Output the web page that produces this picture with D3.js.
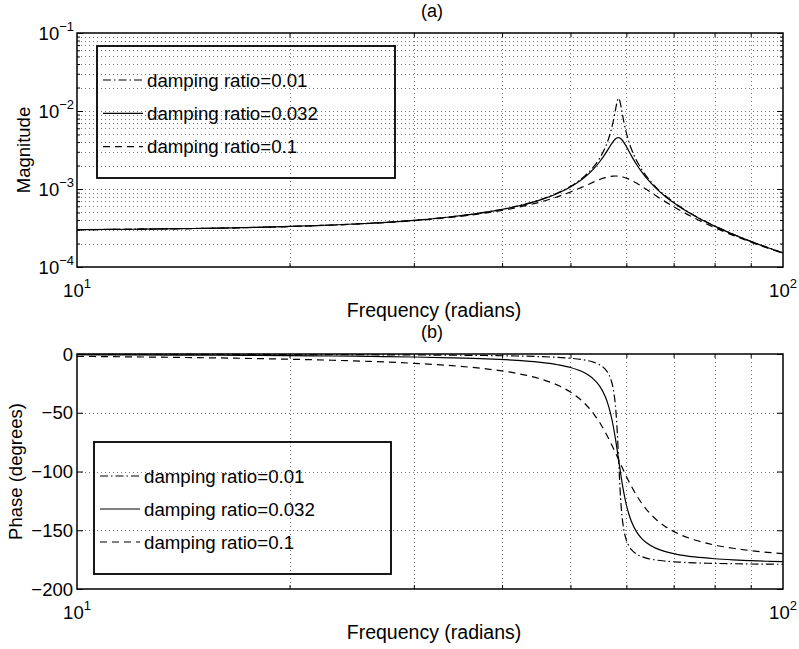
<!DOCTYPE html>
<html>
<head>
<meta charset="utf-8">
<script src="https://cdn.jsdelivr.net/npm/d3@7/dist/d3.min.js"></script>
<style>
  html, body { margin: 0; padding: 0; background: #fff; }
  svg text { font-family: "Liberation Sans", Arial, Helvetica, sans-serif; fill: #000; }
</style>
</head>
<body>
<svg id="chart" width="799" height="649"></svg>
<script>
// Frequency samples (rad/s)
const freq = [10, 12, 14, 16, 18, 20, 23, 26, 30, 34, 38, 42, 45, 48, 50, 52, 53, 54,
  55, 56, 56.5, 57, 57.5, 58, 58.25, 58.5, 58.75, 59, 59.5, 60, 60.5, 61, 62, 63, 64, 66,
  68, 71, 75, 80, 85, 90, 95, 100];

// Magnitude response for each damping ratio
const mag001 = [3.010e-4, 3.050e-4, 3.100e-4, 3.158e-4, 3.228e-4, 3.309e-4, 3.456e-4, 3.641e-4,
  3.964e-4, 4.412e-4, 5.054e-4, 6.028e-4, 7.152e-4, 8.931e-4, 1.0821e-3, 1.3873e-3, 1.6224e-3,
  1.960e-3, 2.485e-3, 3.405e-3, 4.179e-3, 5.387e-3, 7.457e-3, 1.1178e-2, 1.348e-2, 1.462e-2,
  1.339e-2, 1.1034e-2, 7.299e-3, 5.233e-3, 4.027e-3, 3.255e-3, 2.337e-3, 1.8126e-3, 1.4752e-3,
  1.0673e-3, 8.303e-4, 6.169e-4, 4.536e-4, 3.357e-4, 2.629e-4, 2.137e-4, 1.7845e-4, 1.520e-4];
const mag0032 = [3.010e-4, 3.050e-4, 3.099e-4, 3.158e-4, 3.227e-4, 3.308e-4, 3.455e-4, 3.639e-4,
  3.961e-4, 4.406e-4, 5.042e-4, 6.004e-4, 7.105e-4, 8.829e-4, 1.0626e-3, 1.3437e-3, 1.5515e-3,
  1.8345e-3, 2.235e-3, 2.818e-3, 3.200e-3, 3.639e-3, 4.088e-3, 4.447e-3, 4.545e-3, 4.566e-3,
  4.507e-3, 4.375e-3, 3.967e-3, 3.492e-3, 3.043e-3, 2.659e-3, 2.077e-3, 1.6793e-3, 1.3982e-3,
  1.0353e-3, 8.141e-4, 6.096e-4, 4.503e-4, 3.341e-4, 2.621e-4, 2.132e-4, 1.7813e-4, 1.5178e-4];
const mag01 = [3.008e-4, 3.048e-4, 3.096e-4, 3.153e-4, 3.220e-4, 3.299e-4, 3.441e-4, 3.619e-4,
  3.927e-4, 4.346e-4, 4.932e-4, 5.782e-4, 6.697e-4, 7.990e-4, 9.169e-4, 1.0621e-3, 1.1436e-3,
  1.2350e-3, 1.3234e-3, 1.3986e-3, 1.4286e-3, 1.4514e-3, 1.4648e-3, 1.4682e-3, 1.4661e-3, 1.4610e-3,
  1.4535e-3, 1.4434e-3, 1.4162e-3, 1.3808e-3, 1.3390e-3, 1.2925e-3, 1.1918e-3, 1.0896e-3, 9.928e-4,
  8.254e-4, 6.939e-4, 5.496e-4, 4.216e-4, 3.204e-4, 2.544e-4, 2.086e-4, 1.7507e-4, 1.4968e-4];

// Phase response (degrees) for each damping ratio
const phase001 = [-0.20, -0.25, -0.29, -0.34, -0.39, -0.44, -0.53, -0.63, -0.80, -1.01, -1.29, -1.70,
  -2.16, -2.88, -3.63, -4.84, -5.77, -7.12, -9.20, -12.89, -16.03, -21.06, -30.12, -49.37, -66.83, -90,
  -113.11, -130.4, -149.47, -158.45, -163.43, -166.56, -170.25, -172.32, -173.66, -175.27, -176.21,
  -177.06, -177.72, -178.20, -178.50, -178.71, -178.86, -178.98];
const phase0032 = [-0.65, -0.79, -0.93, -1.08, -1.25, -1.42, -1.71, -2.03, -2.55, -3.22, -4.11, -5.42,
  -6.88, -9.13, -11.47, -15.17, -17.93, -21.77, -27.39, -36.23, -42.6, -50.93, -61.69, -75.0, -82.38, -90,
  -97.59, -104.89, -117.91, -128.36, -136.42, -142.60, -151.17, -156.66, -160.43, -165.18, -168.04,
  -170.68, -172.73, -174.26, -175.22, -175.88, -176.37, -176.74];
const phase01 = [-2.02, -2.45, -2.91, -3.38, -3.89, -4.43, -5.31, -6.32, -7.92, -9.96, -12.67, -16.51,
  -20.65, -26.66, -32.39, -40.27, -45.32, -51.30, -58.31, -66.4, -70.82, -75.44, -80.22, -85.09, -87.55, -90,
  -92.44, -94.86, -99.62, -104.21, -108.58, -112.71, -120.17, -126.57, -131.98, -140.41, -146.50,
  -152.83, -158.28, -162.55, -165.34, -167.31, -168.78, -169.91];

const seriesLabels = ["damping ratio=0.01", "damping ratio=0.032", "damping ratio=0.1"];
const freqTicks = [10, 100];
const freqExponents = ["1", "2"];
const magTicks = [1e-4, 1e-3, 1e-2, 1e-1];
const magExponents = ["\u22124", "\u22123", "\u22122", "\u22121"];
const phaseTicks = [0, -50, -100, -150, -200];
const panelTitles = ["(a)", "(b)"];
const xLabel = "Frequency (radians)";
const yLabels = ["Magnitude", "Phase (degrees)"];

// line styles per series: dash-dot, solid, dashed
const dashes = ["8,3,1.5,3", null, "7,5"];

const FS = 18.5;   // main text size
const FSUP = 13;   // exponent size

const svg = d3.select("#chart");
svg.append("rect").attr("width", 799).attr("height", 649).attr("fill", "#fff");

const L = 77, R = 783;
const panels = [
  { top: 33, bottom: 267 },
  { top: 354, bottom: 589 }
];

const x = d3.scaleLog().domain([10, 100]).range([L, R]);
const yMag = d3.scaleLog().domain([1e-4, 1e-1]).range([panels[0].bottom, panels[0].top]);
const yPh = d3.scaleLinear().domain([-200, 0]).range([panels[1].bottom, panels[1].top]);

// minor positions on the log frequency axis
const xMinor = d3.range(2, 10).map(k => k * 10);
const magGrid = [];
[-4, -3, -2].forEach(e => { for (let k = 1; k <= 9; k++) magGrid.push(k * Math.pow(10, e)); });
const magMinor = magGrid.filter(v => !magTicks.some(t => Math.abs(t - v) / t < 1e-9));

const gridStyle = g => g.attr("stroke", "#777").attr("stroke-width", 1)
  .attr("stroke-dasharray", "1,3").attr("fill", "none");

function drawGrid(p, yScale, yVals) {
  const g = svg.append("g").call(gridStyle);
  g.selectAll("line.v").data(xMinor).join("line")
    .attr("x1", d => Math.round(x(d)) + 0.5).attr("x2", d => Math.round(x(d)) + 0.5)
    .attr("y1", p.top).attr("y2", p.bottom);
  g.selectAll("line.h").data(yVals).join("line")
    .attr("y1", d => Math.round(yScale(d)) + 0.5).attr("y2", d => Math.round(yScale(d)) + 0.5)
    .attr("x1", L).attr("x2", R);
}

drawGrid(panels[0], yMag, magGrid.filter(v => v > 1e-4));
drawGrid(panels[1], yPh, phaseTicks.filter(v => v > -200 && v < 0));

// inward tick marks on all four sides
function tickAxes(p, yScale, yMajor, yMin) {
  const mk = (axis, tx, ty, vals, size) => {
    const g = svg.append("g").attr("transform", `translate(${tx},${ty})`)
      .call(axis.tickValues(vals).tickSize(size).tickSizeOuter(0).tickFormat(""));
    g.select(".domain").remove();
    g.selectAll("line").attr("stroke", "#000").attr("stroke-width", 1);
  };
  mk(d3.axisBottom(x), 0, p.bottom, xMinor, -4);
  mk(d3.axisTop(x), 0, p.top, xMinor, -4);
  mk(d3.axisLeft(yScale), L, 0, yMajor, -6);
  mk(d3.axisRight(yScale), R, 0, yMajor, -6);
  if (yMin.length) {
    mk(d3.axisLeft(yScale), L, 0, yMin, -3);
    mk(d3.axisRight(yScale), R, 0, yMin, -3);
  }
}
tickAxes(panels[0], yMag, magTicks, magMinor);
tickAxes(panels[1], yPh, phaseTicks, []);

// curves
function drawCurves(yScale, seriesList) {
  const line = d3.line().x(d => x(d[0])).y(d => yScale(d[1])).curve(d3.curveMonotoneX);
  seriesList.forEach((vals, i) => {
    svg.append("path")
      .datum(freq.map((f, j) => [f, vals[j]]))
      .attr("d", line)
      .attr("fill", "none")
      .attr("stroke", "#000")
      .attr("stroke-width", 1.2)
      .attr("stroke-dasharray", dashes[i]);
  });
}
drawCurves(yMag, [mag001, mag0032, mag01]);
drawCurves(yPh, [phase001, phase0032, phase01]);

// axes boxes
panels.forEach(p => {
  svg.append("rect").attr("x", L).attr("y", p.top)
    .attr("width", R - L).attr("height", p.bottom - p.top)
    .attr("fill", "none").attr("stroke", "#000").attr("stroke-width", 1.5);
});

// power-of-ten labels
function powLabel(sel, base, exp) {
  sel.append("tspan").text(base).attr("font-size", FS);
  sel.append("tspan").text(exp).attr("font-size", FSUP).attr("dy", "-0.7em");
}

panels.forEach(p => {
  freqTicks.forEach((t, i) => {
    const tx = svg.append("text").attr("x", x(t)).attr("y", p.bottom + 30)
      .attr("text-anchor", "middle");
    powLabel(tx, "10", freqExponents[i]);
  });
});

magTicks.forEach((t, i) => {
  const tx = svg.append("text").attr("x", 74).attr("y", yMag(t) + 7).attr("text-anchor", "end");
  powLabel(tx, "10", magExponents[i]);
});

phaseTicks.forEach(t => {
  svg.append("text").attr("x", 73).attr("y", yPh(t) + 6.5).attr("text-anchor", "end")
    .attr("font-size", FS).text(t === 0 ? "0" : "\u2212" + Math.abs(t));
});

// titles and axis labels
panels.forEach((p, i) => {
  svg.append("text").attr("x", 432).attr("y", p.top - 16).attr("text-anchor", "middle")
    .attr("font-size", 18).text(panelTitles[i]);
  svg.append("text").attr("x", 434).attr("y", p.bottom + 50).attr("text-anchor", "middle")
    .attr("font-size", 19.5).text(xLabel);
  const cy = (p.top + p.bottom) / 2;
  const lx = i === 0 ? 30 : 22;
  svg.append("text").attr("transform", `translate(${lx},${cy}) rotate(-90)`)
    .attr("text-anchor", "middle").attr("font-size", FS).text(yLabels[i]);
});

// legends
const legends = [
  { x0: 97, y0: 46, x1: 395, y1: 178, rows: [80, 113.3, 146.7] },
  { x0: 94, y0: 442, x1: 391, y1: 574, rows: [476, 509, 542] }
];
legends.forEach(lg => {
  svg.append("rect").attr("x", lg.x0).attr("y", lg.y0)
    .attr("width", lg.x1 - lg.x0).attr("height", lg.y1 - lg.y0)
    .attr("fill", "none").attr("stroke", "#000").attr("stroke-width", 1.8);
  seriesLabels.forEach((s, i) => {
    svg.append("line").attr("x1", lg.x0 + 6).attr("x2", lg.x0 + 46)
      .attr("y1", lg.rows[i]).attr("y2", lg.rows[i])
      .attr("stroke", "#000").attr("stroke-width", 1.2)
      .attr("stroke-dasharray", dashes[i]);
    svg.append("text").attr("x", lg.x0 + 50).attr("y", lg.rows[i] + 6.7)
      .attr("font-size", 18.7).text(s);
  });
});
</script>
</body>
</html>
